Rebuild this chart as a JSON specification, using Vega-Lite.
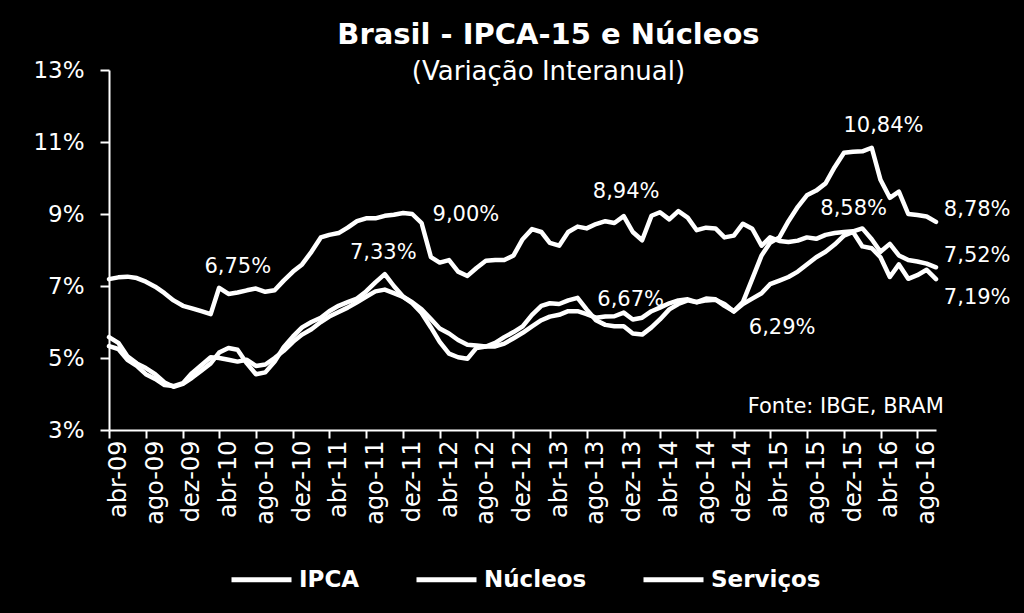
{
  "$schema": "https://vega.github.io/schema/vega-lite/v6.json",
  "width": 827,
  "height": 360,
  "autosize": {"type": "none"},
  "padding": {"left": 109, "top": 70, "right": 88, "bottom": 183},
  "background": "black",
  "config": {
    "font": "DejaVu Sans",
    "view": {"stroke": null},
    "axisX": {"labelOverlap": false}
  },
  "title": {
    "text": "Brasil - IPCA-15 e Núcleos",
    "subtitle": "(Variação Interanual)",
    "anchor": "middle",
    "frame": "group",
    "dx": 26,
    "offset": -26,
    "color": "white",
    "subtitleColor": "white",
    "font": "DejaVu Sans",
    "fontSize": 29,
    "fontWeight": "bold",
    "subtitleFont": "DejaVu Sans",
    "subtitleFontSize": 26,
    "subtitlePadding": 9
  },
  "datasets": {
    "series": [
      {"d": "2009-03-01", "IPCA": 5.58, "Núcleos": 5.33, "Serviços": 7.19},
      {"d": "2009-04-01", "IPCA": 5.42, "Núcleos": 5.25, "Serviços": 7.24},
      {"d": "2009-05-01", "IPCA": 5.05, "Núcleos": 4.95, "Serviços": 7.26},
      {"d": "2009-06-01", "IPCA": 4.85, "Núcleos": 4.78, "Serviços": 7.22},
      {"d": "2009-07-01", "IPCA": 4.72, "Núcleos": 4.55, "Serviços": 7.12},
      {"d": "2009-08-01", "IPCA": 4.55, "Núcleos": 4.42, "Serviços": 6.98},
      {"d": "2009-09-01", "IPCA": 4.32, "Núcleos": 4.25, "Serviços": 6.8},
      {"d": "2009-10-01", "IPCA": 4.2, "Núcleos": 4.22, "Serviços": 6.6},
      {"d": "2009-11-01", "IPCA": 4.28, "Núcleos": 4.3, "Serviços": 6.45},
      {"d": "2009-12-01", "IPCA": 4.45, "Núcleos": 4.58, "Serviços": 6.38},
      {"d": "2010-01-01", "IPCA": 4.65, "Núcleos": 4.8, "Serviços": 6.3},
      {"d": "2010-02-01", "IPCA": 4.85, "Núcleos": 5.02, "Serviços": 6.22},
      {"d": "2010-03-01", "IPCA": 5.15, "Núcleos": 5.0, "Serviços": 6.95},
      {"d": "2010-04-01", "IPCA": 5.28, "Núcleos": 4.95, "Serviços": 6.78},
      {"d": "2010-05-01", "IPCA": 5.23, "Núcleos": 4.9, "Serviços": 6.82},
      {"d": "2010-06-01", "IPCA": 4.85, "Núcleos": 4.95, "Serviços": 6.88},
      {"d": "2010-07-01", "IPCA": 4.55, "Núcleos": 4.78, "Serviços": 6.93},
      {"d": "2010-08-01", "IPCA": 4.6, "Núcleos": 4.82, "Serviços": 6.84},
      {"d": "2010-09-01", "IPCA": 4.9, "Núcleos": 5.0, "Serviços": 6.88},
      {"d": "2010-10-01", "IPCA": 5.3, "Núcleos": 5.2, "Serviços": 7.15},
      {"d": "2010-11-01", "IPCA": 5.6, "Núcleos": 5.45, "Serviços": 7.4},
      {"d": "2010-12-01", "IPCA": 5.85, "Núcleos": 5.65, "Serviços": 7.6},
      {"d": "2011-01-01", "IPCA": 6.0, "Núcleos": 5.8, "Serviços": 7.95},
      {"d": "2011-02-01", "IPCA": 6.12, "Núcleos": 6.0, "Serviços": 8.35},
      {"d": "2011-03-01", "IPCA": 6.3, "Núcleos": 6.15, "Serviços": 8.42},
      {"d": "2011-04-01", "IPCA": 6.45, "Núcleos": 6.28, "Serviços": 8.47},
      {"d": "2011-05-01", "IPCA": 6.55, "Núcleos": 6.4, "Serviços": 8.62},
      {"d": "2011-06-01", "IPCA": 6.65, "Núcleos": 6.55, "Serviços": 8.8},
      {"d": "2011-07-01", "IPCA": 6.85, "Núcleos": 6.7, "Serviços": 8.88},
      {"d": "2011-08-01", "IPCA": 7.1, "Núcleos": 6.85, "Serviços": 8.88},
      {"d": "2011-09-01", "IPCA": 7.33, "Núcleos": 6.9, "Serviços": 8.95},
      {"d": "2011-10-01", "IPCA": 7.0, "Núcleos": 6.8, "Serviços": 8.98},
      {"d": "2011-11-01", "IPCA": 6.7, "Núcleos": 6.7, "Serviços": 9.03},
      {"d": "2011-12-01", "IPCA": 6.52, "Núcleos": 6.55, "Serviços": 9.0},
      {"d": "2012-01-01", "IPCA": 6.25, "Núcleos": 6.35, "Serviços": 8.75},
      {"d": "2012-02-01", "IPCA": 5.85, "Núcleos": 6.08, "Serviços": 7.8},
      {"d": "2012-03-01", "IPCA": 5.45, "Núcleos": 5.82, "Serviços": 7.65},
      {"d": "2012-04-01", "IPCA": 5.12, "Núcleos": 5.68, "Serviços": 7.72},
      {"d": "2012-05-01", "IPCA": 5.02, "Núcleos": 5.5, "Serviços": 7.4},
      {"d": "2012-06-01", "IPCA": 4.98, "Núcleos": 5.37, "Serviços": 7.28},
      {"d": "2012-07-01", "IPCA": 5.28, "Núcleos": 5.35, "Serviços": 7.5},
      {"d": "2012-08-01", "IPCA": 5.32, "Núcleos": 5.32, "Serviços": 7.7},
      {"d": "2012-09-01", "IPCA": 5.42, "Núcleos": 5.32, "Serviços": 7.72},
      {"d": "2012-10-01", "IPCA": 5.58, "Núcleos": 5.4, "Serviços": 7.72},
      {"d": "2012-11-01", "IPCA": 5.72, "Núcleos": 5.55, "Serviços": 7.85},
      {"d": "2012-12-01", "IPCA": 5.88, "Núcleos": 5.7, "Serviços": 8.3},
      {"d": "2013-01-01", "IPCA": 6.2, "Núcleos": 5.88, "Serviços": 8.58},
      {"d": "2013-02-01", "IPCA": 6.45, "Núcleos": 6.05, "Serviços": 8.5},
      {"d": "2013-03-01", "IPCA": 6.52, "Núcleos": 6.15, "Serviços": 8.2},
      {"d": "2013-04-01", "IPCA": 6.5, "Núcleos": 6.2, "Serviços": 8.12},
      {"d": "2013-05-01", "IPCA": 6.6, "Núcleos": 6.3, "Serviços": 8.5},
      {"d": "2013-06-01", "IPCA": 6.67, "Núcleos": 6.3, "Serviços": 8.65},
      {"d": "2013-07-01", "IPCA": 6.35, "Núcleos": 6.22, "Serviços": 8.6},
      {"d": "2013-08-01", "IPCA": 6.05, "Núcleos": 6.12, "Serviços": 8.72},
      {"d": "2013-09-01", "IPCA": 5.92, "Núcleos": 6.15, "Serviços": 8.8},
      {"d": "2013-10-01", "IPCA": 5.88, "Núcleos": 6.16, "Serviços": 8.75},
      {"d": "2013-11-01", "IPCA": 5.88, "Núcleos": 6.26, "Serviços": 8.94},
      {"d": "2013-12-01", "IPCA": 5.68, "Núcleos": 6.07, "Serviços": 8.5},
      {"d": "2014-01-01", "IPCA": 5.65, "Núcleos": 6.12, "Serviços": 8.27},
      {"d": "2014-02-01", "IPCA": 5.85, "Núcleos": 6.3, "Serviços": 8.95},
      {"d": "2014-03-01", "IPCA": 6.07, "Núcleos": 6.4, "Serviços": 9.05},
      {"d": "2014-04-01", "IPCA": 6.35, "Núcleos": 6.52, "Serviços": 8.85},
      {"d": "2014-05-01", "IPCA": 6.5, "Núcleos": 6.6, "Serviços": 9.08},
      {"d": "2014-06-01", "IPCA": 6.6, "Núcleos": 6.63, "Serviços": 8.9},
      {"d": "2014-07-01", "IPCA": 6.55, "Núcleos": 6.55, "Serviços": 8.55},
      {"d": "2014-08-01", "IPCA": 6.65, "Núcleos": 6.6, "Serviços": 8.62},
      {"d": "2014-09-01", "IPCA": 6.63, "Núcleos": 6.62, "Serviços": 8.6},
      {"d": "2014-10-01", "IPCA": 6.45, "Núcleos": 6.5, "Serviços": 8.35},
      {"d": "2014-11-01", "IPCA": 6.3, "Núcleos": 6.29, "Serviços": 8.4},
      {"d": "2014-12-01", "IPCA": 6.55, "Núcleos": 6.5, "Serviços": 8.73},
      {"d": "2015-01-01", "IPCA": 7.2, "Núcleos": 6.65, "Serviços": 8.59},
      {"d": "2015-02-01", "IPCA": 7.85, "Núcleos": 6.8, "Serviços": 8.12},
      {"d": "2015-03-01", "IPCA": 8.2, "Núcleos": 7.05, "Serviços": 8.35},
      {"d": "2015-04-01", "IPCA": 8.35, "Núcleos": 7.15, "Serviços": 8.25},
      {"d": "2015-05-01", "IPCA": 8.8, "Núcleos": 7.25, "Serviços": 8.22},
      {"d": "2015-06-01", "IPCA": 9.2, "Núcleos": 7.4, "Serviços": 8.26},
      {"d": "2015-07-01", "IPCA": 9.52, "Núcleos": 7.6, "Serviços": 8.35},
      {"d": "2015-08-01", "IPCA": 9.65, "Núcleos": 7.8, "Serviços": 8.31},
      {"d": "2015-09-01", "IPCA": 9.85, "Núcleos": 7.95, "Serviços": 8.42},
      {"d": "2015-10-01", "IPCA": 10.3, "Núcleos": 8.15, "Serviços": 8.47},
      {"d": "2015-11-01", "IPCA": 10.7, "Núcleos": 8.4, "Serviços": 8.5},
      {"d": "2015-12-01", "IPCA": 10.73, "Núcleos": 8.5, "Serviços": 8.52},
      {"d": "2016-01-01", "IPCA": 10.74, "Núcleos": 8.1, "Serviços": 8.6},
      {"d": "2016-02-01", "IPCA": 10.84, "Núcleos": 8.05, "Serviços": 8.3},
      {"d": "2016-03-01", "IPCA": 9.95, "Núcleos": 7.8, "Serviços": 7.95},
      {"d": "2016-04-01", "IPCA": 9.45, "Núcleos": 7.25, "Serviços": 8.17},
      {"d": "2016-05-01", "IPCA": 9.62, "Núcleos": 7.6, "Serviços": 7.85},
      {"d": "2016-06-01", "IPCA": 9.0, "Núcleos": 7.2, "Serviços": 7.72},
      {"d": "2016-07-01", "IPCA": 8.97, "Núcleos": 7.3, "Serviços": 7.68},
      {"d": "2016-08-01", "IPCA": 8.93, "Núcleos": 7.45, "Serviços": 7.62},
      {"d": "2016-09-01", "IPCA": 8.78, "Núcleos": 7.19, "Serviços": 7.52}
    ],
    "notesCenter": [
      {"d": "2010-05-02", "v": 7.54, "label": "6,75%"},
      {"d": "2011-08-27", "v": 7.93, "label": "7,33%"},
      {"d": "2012-05-27", "v": 8.97, "label": "9,00%"},
      {"d": "2013-11-09", "v": 9.62, "label": "8,94%"},
      {"d": "2013-11-24", "v": 6.61, "label": "6,67%"},
      {"d": "2015-04-10", "v": 5.83, "label": "6,29%"},
      {"d": "2015-12-03", "v": 9.14, "label": "8,58%"},
      {"d": "2016-03-11", "v": 11.44, "label": "10,84%"}
    ],
    "notesLeft": [
      {"d": "2016-09-27", "v": 9.1, "label": "8,78%"},
      {"d": "2016-09-27", "v": 7.84, "label": "7,52%"},
      {"d": "2016-09-27", "v": 6.67, "label": "7,19%"}
    ],
    "notesRight": [
      {"d": "2016-09-27", "v": 3.64, "label": "Fonte: IBGE, BRAM"}
    ]
  },
  "layer": [
    {
      "data": {"name": "series"},
      "transform": [{"fold": ["IPCA", "Núcleos", "Serviços"], "as": ["serie", "valor"]}],
      "mark": {"type": "line", "strokeWidth": 4.5, "strokeJoin": "round", "strokeCap": "round"},
      "encoding": {
        "x": {
          "field": "d",
          "type": "temporal",
          "scale": {"type": "utc", "domain": [1235865600000, 1472688000000]},
          "axis": {
            "title": null,
            "grid": false,
            "tickCount": 40,
            "values": [1238544000000, 1249084800000, 1259625600000, 1270080000000, 1280620800000, 1291161600000, 1301616000000, 1312156800000, 1322697600000, 1333238400000, 1343779200000, 1354320000000, 1364774400000, 1375315200000, 1385856000000, 1396310400000, 1406851200000, 1417392000000, 1427846400000, 1438387200000, 1448928000000, 1459468800000, 1470009600000],
            "labelExpr": "['jan','fev','mar','abr','mai','jun','jul','ago','set','out','nov','dez'][utcmonth(datum.value)] + '-' + utcFormat(datum.value, '%y')",
            "labelAngle": 270,
            "labelAlign": "right",
            "labelBaseline": "middle",
            "labelFontSize": 24,
            "labelColor": "white",
            "labelPadding": 2,
            "labelOverlap": false,
            "labelSeparation": 0,
            "labelFlush": false,
            "domainColor": "white",
            "domainWidth": 2,
            "tickColor": "white",
            "tickWidth": 2,
            "tickSize": 8,
            "tickOffset": -9.19,
            "labelOffset": 9.19
          }
        },
        "y": {
          "field": "valor",
          "type": "quantitative",
          "scale": {"domain": [3, 13], "nice": false, "zero": false},
          "axis": {
            "title": null,
            "grid": false,
            "values": [3, 5, 7, 9, 11, 13],
            "labelExpr": "datum.value + '%'",
            "labelFontSize": 23,
            "labelColor": "white",
            "labelPadding": 16,
            "domainColor": "white",
            "domainWidth": 2,
            "tickColor": "white",
            "tickWidth": 2,
            "tickSize": 9
          }
        },
        "color": {
          "field": "serie",
          "type": "nominal",
          "scale": {"domain": ["IPCA", "Núcleos", "Serviços"], "range": ["white", "white", "white"]},
          "legend": {
            "title": null,
            "orient": "none",
            "direction": "horizontal",
            "legendX": 120,
            "legendY": 477,
            "symbolType": "stroke",
            "symbolSize": 3600,
            "symbolStrokeWidth": 5,
            "symbolStrokeColor": "white",
            "labelColor": "white",
            "labelFontSize": 23,
            "labelFontWeight": "bold",
            "labelOffset": 5,
            "columnPadding": 46
          }
        }
      }
    },
    {
      "data": {"name": "notesCenter"},
      "mark": {"type": "text", "color": "white", "fontSize": 21, "baseline": "middle", "align": "center"},
      "encoding": {
        "x": {"field": "d", "type": "temporal"},
        "y": {"field": "v", "type": "quantitative"},
        "text": {"field": "label"}
      }
    },
    {
      "data": {"name": "notesLeft"},
      "mark": {"type": "text", "color": "white", "fontSize": 21, "baseline": "middle", "align": "left"},
      "encoding": {
        "x": {"field": "d", "type": "temporal"},
        "y": {"field": "v", "type": "quantitative"},
        "text": {"field": "label"}
      }
    },
    {
      "data": {"name": "notesRight"},
      "mark": {"type": "text", "color": "white", "fontSize": 21, "baseline": "middle", "align": "right"},
      "encoding": {
        "x": {"field": "d", "type": "temporal"},
        "y": {"field": "v", "type": "quantitative"},
        "text": {"field": "label"}
      }
    }
  ]
}
